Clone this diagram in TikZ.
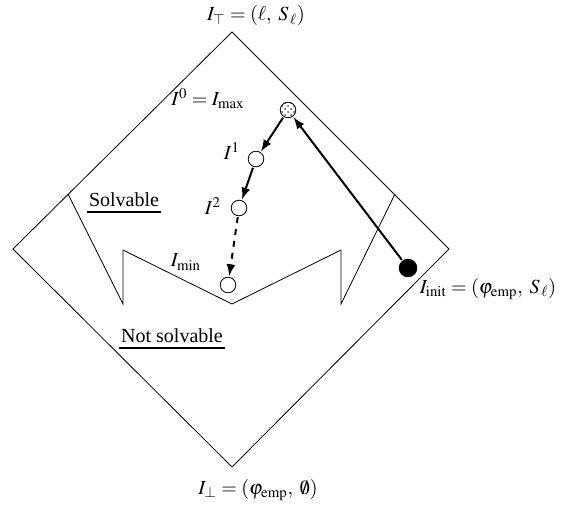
\documentclass[tikz,border=0pt]{standalone}
\usepackage{mathptmx}
\usepackage{fontspec}
\setmainfont{Liberation Serif}
\usetikzlibrary{patterns}

\tikzset{
  inst/.style={circle, draw, thin, fill=white, inner sep=0pt, minimum size=7.8pt},
  move/.style={->, line width=1pt, shorten >=0.5pt, shorten <=0.5pt},
  lbl/.style={inner sep=1pt}
}

\begin{document}
\begin{tikzpicture}[x=0.5pt, y=-0.5pt, >=latex, font=\normalsize]
				% Rahmen
				\useasboundingbox (0,0) rectangle (565,508);
				% Verband (Raute)
				\coordinate (top) at (232,32);
				\coordinate (left) at (13,249);
				\coordinate (bot) at (232,467);
				\coordinate (right) at (449,249);
				\draw[thin] (top) -- (right) -- (bot) -- (left) -- cycle;
				% Grenze loesbar / nicht loesbar
				\draw[thin] (68,194) -- (123,304) -- (123,250) -- (232,304)
				  -- (341,250) -- (341,304) -- (395,194);
				% Instanzen
				\node[inst, pattern=crosshatch dots, pattern color=black!70] (imax) at (288,110) {};
				\node[inst] (ione) at (256,159) {};
				\node[inst] (itwo) at (239,208) {};
				\node[inst] (imin) at (228,285) {};
				\node[inst, fill=black, minimum size=8.8pt] (iinit) at (408,268) {};
				% Pfeile
				\draw[move] (iinit) -- (imax);
				\draw[move] (imax) -- (ione);
				\draw[move] (ione) -- (itwo);
				\draw[move, dashed] (itwo) -- (imin);
				% Beschriftung
				\node[lbl] (ltop) at (256,16) {$I_{\top} = (\ell,\; S_{\,\ell})$};
				\node[lbl] (lbot) at (258,490) {$I_{\bot} = (\varphi_{\mathrm{emp}},\; \emptyset)$};
				\node[lbl] (lmax) at (208,99) {$I^{0} = I_{\mathrm{max}}$};
				\node[lbl] (lone) at (232,151) {$I^{1}$};
				\node[lbl] (ltwo) at (213,206) {$I^{2}$};
				\node[lbl] (lmin) at (186,262) {$I_{\mathrm{min}}$};
				\node[lbl] (linit) at (488,289) {$I_{\mathrm{init}} = (\varphi_{\mathrm{emp}},\; S_{\,\ell})$};
				\node[lbl] (solv) at (124,200) {Solvable};
				\node[lbl] (nsolv) at (172,336) {Not solvable};
				\draw[line width=1pt] ([yshift=-2.6pt]solv.base west) -- ([yshift=-2.6pt]solv.base east);
				\draw[line width=1pt] ([yshift=-2.6pt]nsolv.base west) -- ([yshift=-2.6pt]nsolv.base east);
			\end{tikzpicture}
\end{document}
